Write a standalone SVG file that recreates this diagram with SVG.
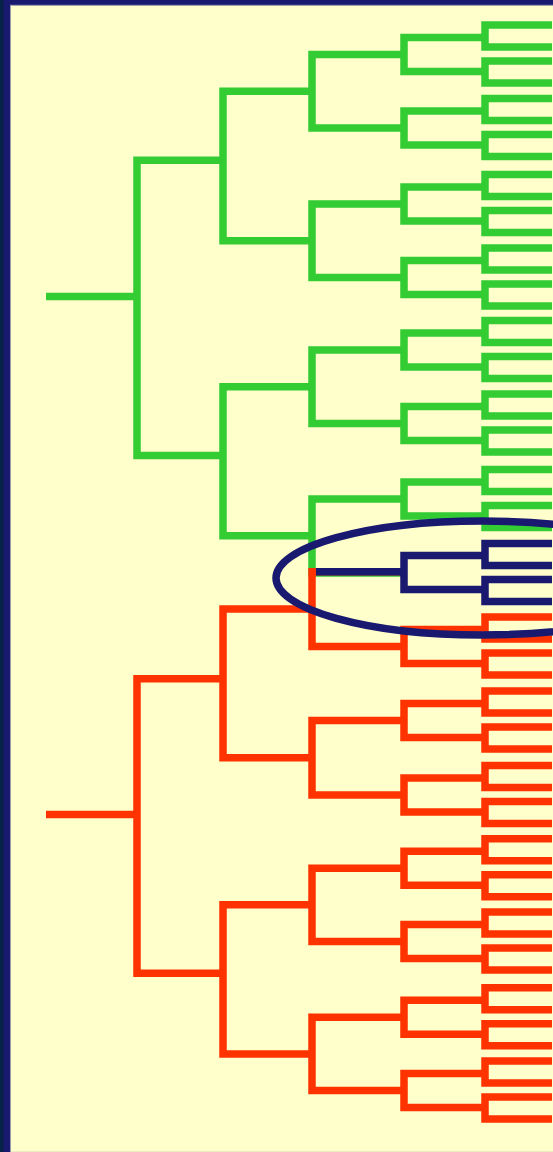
<svg xmlns="http://www.w3.org/2000/svg" width="553" height="1152" viewBox="0 0 553 1152">
<style>
.l{fill:none;stroke-width:7.5;stroke-linejoin:miter;stroke-linecap:butt}
.g{stroke:#33CC33}
.o{stroke:#FF3300}
.n{stroke:#191970}
</style>
<rect x="0" y="0" width="553" height="1152" fill="#191970"/>
<rect x="0" y="0" width="3.5" height="1152" fill="#062446"/>
<rect x="10.5" y="5.3" width="543" height="1147" fill="#FFFFCC" stroke="#9A9AB0" stroke-width="1"/>
<g id="connectors">
<g id="green-tree" class="l g">
<path d="M46 296.5H137M223 160.3H137V455.5H223"/>
<path d="M312 91.2H223V240.7H312M312 386.7H223V535.7H312"/>
<path d="M404 54.5H312V128H404M404 204H312V277.5H404M404 350H312V423.5H404M404 499H312V573H404"/>
<path d="M485 37.5H404V71.5H485M485 111H404V145H485M485 187H404V221H485M485 260.5H404V294.5H485M485 333H404V367H485M485 406.5H404V440.5H485M485 482H404V516H485"/>
<path d="M552 25H485V47H552M552 61H485V83H552M552 98.5H485V120.5H552M552 134.5H485V156.5H552M552 174.5H485V196.5H552M552 210.5H485V232.5H552M552 248H485V270H552M552 284H485V306H552M552 320.5H485V342.5H552M552 356.5H485V378.5H552M552 394H485V416H552M552 430H485V452H552M552 469.5H485V491.5H552M552 505.5H485V527.5H552"/>
</g>
<g id="orange-tree" class="l o">
<path d="M46 814.5H137M223 678.7H137V973.3H223"/>
<path d="M312 609.1H223V757.7H312M312 904.8H223V1053.9H312"/>
<path d="M404 571.7H312V646.5H404M404 720.5H312V795H404M404 868.2H312V941.5H404M404 1017.3H312V1090.5H404"/>
<path d="M485 629.5H404V663.5H485M485 703.5H404V737.5H485M485 778H404V812H485M485 851.2H404V885.2H485M485 924.5H404V958.5H485M485 1000.3H404V1034.3H485M485 1073.5H404V1107.5H485"/>
<path d="M552 617H485V639H552M552 653H485V675H552M552 691H485V713H552M552 727H485V749H552M552 765.5H485V787.5H552M552 801.5H485V823.5H552M552 838.7H485V860.7H552M552 874.7H485V896.7H552M552 912H485V934H552M552 948H485V970H552M552 987.8H485V1009.8H552M552 1023.8H485V1045.8H552M552 1061H485V1083H552M552 1097H485V1119H552"/>
</g>
<g id="navy-clade" class="l n">
<path d="M316 571.7H404M485 555.5H404V589.5H485"/>
<path d="M552 543.5H485V565.5H552M552 579.5H485V601.5H552"/>
</g>
</g>
<g id="highlight-ellipse">
<ellipse cx="482" cy="578" rx="206" ry="57" fill="none" stroke="#191970" stroke-width="7.5"/>
</g>
</svg>
